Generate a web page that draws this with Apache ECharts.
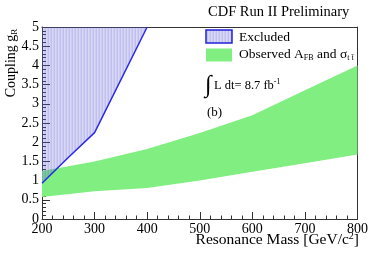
<!DOCTYPE html>
<html><head><meta charset="utf-8">
<script src="https://cdn.jsdelivr.net/npm/echarts@6/dist/echarts.min.js"></script>
<style>html,body{margin:0;padding:0;background:#fff}#c{width:371px;height:256px}</style>
</head><body><div id="c"></div>
<script>
// ---- data ----
const massPoints   = [200, 300, 400, 500, 600, 700, 800];
const bandUpper    = [1.25, 1.5, 1.82, 2.24, 2.70, 3.35, 4.0];
const bandLower    = [0.57, 0.72, 0.81, 1.0, 1.23, 1.45, 1.68];
const exclMass     = [200, 250, 300, 400];
const exclCoupling = [0.93, 1.6, 2.25, 5.0];
const xRange = [200, 800];
const yRange = [0, 5];

const FONT = 'Liberation Serif';
function hatch() {
  const c = document.createElement('canvas');
  c.width = 3; c.height = 4;
  const g = c.getContext('2d');
  const cols = ['rgba(90,90,215,0.38)', 'rgba(90,90,215,0.24)', 'rgba(90,90,215,0.30)'];
  cols.forEach((col, i) => { g.fillStyle = col; g.fillRect(i, 0, 1, 4); });
  return c;
}
const hatchColor = { image: hatch(), repeat: 'repeat' };
const green = '#80ee80';

const chart = echarts.init(document.getElementById('c'), null, { renderer: 'canvas' });
const axisLbl = { fontFamily: FONT, fontSize: 14, color: '#000' };
chart.setOption({
  animation: false,
  grid: { left: 42, right: 12, top: 27, bottom: 37, containLabel: false },
  xAxis: [{
    type: 'value', min: xRange[0], max: xRange[1], interval: 100,
    axisLine: { show: true, lineStyle: { color: '#333', width: 1 } },
    axisTick: { show: true, inside: true, length: 7, lineStyle: { color: '#333' } },
    minorTick: { show: true, splitNumber: 5, length: 3.5, lineStyle: { color: '#333' } },
    splitLine: { show: false },
    axisLabel: Object.assign({ margin: 3 }, axisLbl)
  }, {
    type: 'value', position: 'top', min: xRange[0], max: xRange[1],
    axisLine: { show: true, onZero: false, lineStyle: { color: '#333', width: 1 } },
    axisTick: { show: false }, axisLabel: { show: false }, splitLine: { show: false }
  }],
  yAxis: [{
    type: 'value', min: yRange[0], max: yRange[1], interval: 0.5,
    axisLine: { show: true, lineStyle: { color: '#333', width: 1 } },
    axisTick: { show: true, inside: true, length: 8, lineStyle: { color: '#333' } },
    minorTick: { show: true, splitNumber: 5, length: 4, lineStyle: { color: '#333' } },
    splitLine: { show: false },
    axisLabel: Object.assign({ margin: 3 }, axisLbl)
  }, {
    type: 'value', position: 'right', min: yRange[0], max: yRange[1],
    axisLine: { show: true, onZero: false, lineStyle: { color: '#333', width: 1 } },
    axisTick: { show: false }, axisLabel: { show: false }, splitLine: { show: false }
  }],
  series: [{
    type: 'custom',
    name: 'Observed',
    data: [[massPoints[0], bandLower[0]]],
    renderItem: function (params, api) {
      const pts = [];
      massPoints.forEach((m, i) => pts.push(api.coord([m, bandUpper[i]])));
      for (let i = massPoints.length - 1; i >= 0; i--) pts.push(api.coord([massPoints[i], bandLower[i]]));
      return { type: 'polygon', shape: { points: pts }, style: { fill: green, stroke: null } };
    },
    z: 1
  }, {
    type: 'line',
    name: 'Excluded',
    data: exclMass.map((m, i) => [m, exclCoupling[i]]),
    showSymbol: false,
    lineStyle: { color: '#2a2ae8', width: 1.5 },
    areaStyle: { origin: 'end', color: hatchColor, opacity: 1 },
    z: 2
  }],
  graphic: [
    { type: 'text', left: 208, top: 5, style: { text: 'CDF Run II Preliminary', font: '14.5px "Liberation Serif"', fill: '#000' } },
    { type: 'text', x: 11, y: 63, rotation: Math.PI / 2,
      style: { text: '{a|Coupling g}{b|R}', align: 'center', verticalAlign: 'middle',
        rich: { a: { font: '14px "Liberation Serif"', fill: '#000', lineHeight: 16 },
                b: { font: '9px "Liberation Serif"', fill: '#000', lineHeight: 16, verticalAlign: 'bottom', padding: [6, 0, 0, 0] } } } },
    { type: 'text', x: 359, y: 240,
      style: { text: '{a|Resonance Mass [GeV/c}{s|2}{a|]}', align: 'right', verticalAlign: 'middle',
        rich: { a: { font: '15.5px "Liberation Serif"', fill: '#000', lineHeight: 18 },
                s: { font: '10px "Liberation Serif"', fill: '#000', lineHeight: 18, verticalAlign: 'top', padding: [0, 0, 8, 0] } } } },
    { type: 'rect', shape: { x: 206, y: 30, width: 26, height: 13 }, style: { fill: hatchColor, stroke: '#2222dd', lineWidth: 1.5 } },
    { type: 'rect', shape: { x: 206, y: 48.5, width: 26, height: 13 }, style: { fill: green } },
    { type: 'text', x: 239, y: 37, style: { text: 'Excluded', font: '13.5px "Liberation Serif"', fill: '#000', verticalAlign: 'middle' } },
    { type: 'text', x: 239, y: 54,
      style: { text: '{a|Observed A}{b|FB}{a| and σ}{b|t t\u0304}', verticalAlign: 'middle',
        rich: { a: { font: '13.5px "Liberation Serif"', fill: '#000', lineHeight: 16 },
                b: { font: '8px "Liberation Serif"', fill: '#000', lineHeight: 16, verticalAlign: 'bottom', padding: [6, 0, 0, 0] } } } },
    { type: 'text', x: 205, y: 86, style: { text: '∫', font: '24px "Liberation Serif"', fill: '#000', verticalAlign: 'middle' } },
    { type: 'text', x: 214, y: 86,
      style: { text: '{a|L dt= 8.7 fb}{s|-1}', verticalAlign: 'middle',
        rich: { a: { font: '12.5px "Liberation Serif"', fill: '#000', lineHeight: 16 },
                s: { font: '8px "Liberation Serif"', fill: '#000', lineHeight: 16, verticalAlign: 'top', padding: [0, 0, 6, 0] } } } },
    { type: 'text', x: 207, y: 113, style: { text: '(b)', font: '13px "Liberation Serif"', fill: '#000', verticalAlign: 'middle' } }
  ]
});
</script>
</body></html>
